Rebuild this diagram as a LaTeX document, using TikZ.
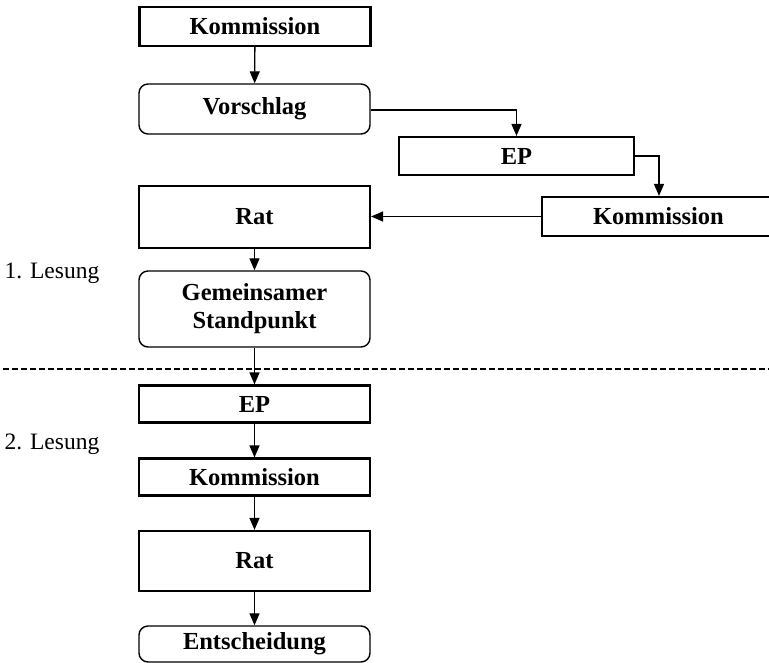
\documentclass[tikz,border=0pt]{standalone}
\usepackage{fontspec}
\setmainfont{Liberation Serif}
\usetikzlibrary{arrows.meta}
\begin{document}
\begin{tikzpicture}[x=1pt,y=-1pt,
  box/.style={draw,line width=2.2pt,minimum width=231pt,inner sep=0pt,font=\fontsize{24.5}{28}\selectfont\bfseries},
  rbox/.style={draw,line width=1.4pt,rounded corners=9pt,minimum width=231pt,inner sep=0pt,align=center,font=\fontsize{24.5}{28}\selectfont\bfseries},
  lbl/.style={font=\fontsize{23.5}{28}\selectfont},
  arr/.style={line width=1.3pt,-{Triangle[length=12pt,width=10pt]}},
  sep/.style={line width=1.1pt,dash pattern=on 6pt off 3pt}]
\useasboundingbox (0,0) rectangle (769,662);
\node[box,minimum height=39pt] (k1) at (255,26.5) {Kommission};
\node[rbox,minimum height=50pt] (vor) at (254.5,109) {Vorschlag};
\node[box,minimum width=235pt,minimum height=38pt] (ep1) at (516.5,156) {EP};
\node[box,minimum width=233pt,minimum height=39pt] (k2) at (658.5,216.5) {Kommission};
\node[box,minimum height=62pt] (rat1) at (254.5,217) {Rat};
\node[rbox,minimum height=76pt] (gem) at (254.5,309) {Gemeinsamer\\Standpunkt};
\node[box,minimum height=37pt] (ep2) at (254.5,404) {EP};
\node[box,minimum height=37pt] (k3) at (254.5,477) {Kommission};
\node[box,minimum height=60pt] (rat2) at (254.5,561) {Rat};
\node[rbox,minimum height=36pt] (ent) at (254.5,644) {Entscheidung};
\node[lbl] (l1) at (52,273) {1. Lesung};
\node[lbl] (l2) at (52,444) {2. Lesung};
\coordinate (d1) at (3,369);
\coordinate (d2) at (769,369);
\draw[sep] (d1) -- (d2);
\draw[arr] (k1) -- (vor);
\draw[arr] (vor.east |- 0,110) -| (ep1.north);
\draw[arr] (ep1.east) -| (k2.north -| 659,0);
\draw[arr] (k2.west) -- (rat1.east |- k2.west);
\draw[arr] (rat1) -- (gem);
\draw[arr] (gem) -- (ep2);
\draw[arr] (ep2) -- (k3);
\draw[arr] (k3) -- (rat2);
\draw[arr] (rat2) -- (ent);
\end{tikzpicture}
\end{document}
